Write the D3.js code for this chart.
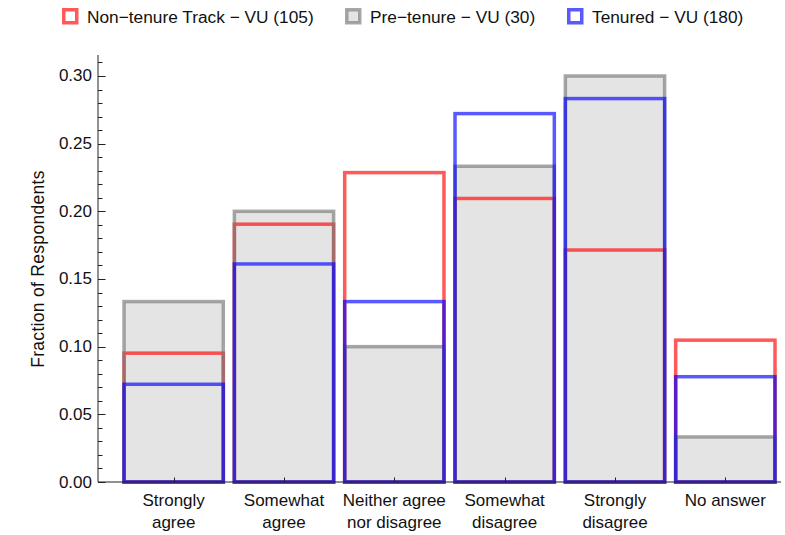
<!DOCTYPE html>
<html>
<head>
<meta charset="utf-8">
<script src="https://cdn.jsdelivr.net/npm/d3@7"></script>
<style>
  body { margin: 0; background: #fff; }
  svg { display: block; }
  text { font-family: "Liberation Sans", Arial, sans-serif; fill: #111; }
</style>
</head>
<body>
<svg id="chart" width="785" height="535"></svg>
<script>
// ---- data ----
const categories = [
  ["Strongly", "agree"],
  ["Somewhat", "agree"],
  ["Neither agree", "nor disagree"],
  ["Somewhat", "disagree"],
  ["Strongly", "disagree"],
  ["No answer"]
];
const seriesNames = ["Non\u2212tenure Track \u2212 VU (105)", "Pre\u2212tenure \u2212 VU (30)", "Tenured \u2212 VU (180)"];
const nonTenure = [0.0952, 0.1905, 0.2286, 0.2095, 0.1714, 0.1048];
const preTenure = [0.1333, 0.2000, 0.1000, 0.2333, 0.3000, 0.0333];
const tenured   = [0.0722, 0.1611, 0.1333, 0.2722, 0.2833, 0.0778];
const yTicks = [0, 0.05, 0.10, 0.15, 0.20, 0.25, 0.30];
const yMinorTicks = d3.range(0, 0.315, 0.01);

// ---- layout ----
const svg = d3.select("#chart");
const catKeys = categories.map((c, i) => i);
const x = d3.scaleBand().domain(catKeys).range([118.5, 780.5]).paddingInner(0.1).paddingOuter(0.05);
const y = d3.scaleLinear().domain([0, 0.3155]).range([482, 55]);

const strokeW = 3.5;
const series = [
  { name: seriesNames[0], values: nonTenure, stroke: "rgba(255,0,0,0.65)", swatchFill: "#fff" },
  { name: seriesNames[1], values: preTenure, stroke: "rgba(120,120,120,0.65)", swatchFill: "#e4e4e4" },
  { name: seriesNames[2], values: tenured, stroke: "rgba(0,0,255,0.65)", swatchFill: "#fff" }
];

// gray fill first
const gBars = svg.append("g");
gBars.selectAll("rect.fill")
  .data(preTenure)
  .join("rect")
  .attr("x", (d, i) => x(i))
  .attr("width", x.bandwidth())
  .attr("y", d => y(d))
  .attr("height", d => y(0) - y(d))
  .attr("fill", "#e4e4e4");

// strokes in order: non-tenure (red), pre-tenure (gray), tenured (blue)
[series[0], series[1], series[2]].forEach(s => {
  gBars.append("g").selectAll("rect")
    .data(s.values)
    .join("rect")
    .attr("x", (d, i) => x(i))
    .attr("width", x.bandwidth())
    .attr("y", d => y(d))
    .attr("height", d => y(0) - y(d))
    .attr("fill", "none")
    .attr("stroke", s.stroke)
    .attr("stroke-width", strokeW);
});

// ---- axes ----
const axisColor = "#222";
const ax = svg.append("g");
ax.append("line").attr("x1", 98).attr("x2", 98).attr("y1", y.range()[1]).attr("y2", y(0))
  .attr("stroke", axisColor).attr("stroke-width", 1);
ax.append("line").attr("x1", 98).attr("x2", 781).attr("y1", y(0)).attr("y2", y(0))
  .attr("stroke", axisColor).attr("stroke-width", 1);

ax.selectAll("line.minor").data(yMinorTicks).join("line")
  .attr("x1", 98).attr("x2", 102.5)
  .attr("y1", d => Math.round(y(d)) + 0.5).attr("y2", d => Math.round(y(d)) + 0.5)
  .attr("stroke", axisColor).attr("stroke-width", 1);
ax.selectAll("line.major").data(yTicks).join("line")
  .attr("x1", 98).attr("x2", 105.5)
  .attr("y1", d => Math.round(y(d)) + 0.5).attr("y2", d => Math.round(y(d)) + 0.5)
  .attr("stroke", axisColor).attr("stroke-width", 1);
ax.selectAll("text.ylab").data(yTicks).join("text")
  .attr("x", 92).attr("y", d => y(d))
  .attr("text-anchor", "end").attr("dominant-baseline", "central")
  .style("font-size", "17px")
  .text(d => d3.format(".2f")(d));

ax.selectAll("line.xt").data(catKeys).join("line")
  .attr("x1", d => Math.round(x(d) + x.bandwidth() / 2) + 0.5)
  .attr("x2", d => Math.round(x(d) + x.bandwidth() / 2) + 0.5)
  .attr("y1", y(0)).attr("y2", y(0) - 4.5)
  .attr("stroke", axisColor).attr("stroke-width", 1);

const xl = ax.selectAll("text.xlab").data(categories).join("text")
  .attr("text-anchor", "middle")
  .style("font-size", "17px");
xl.each(function(lines, i) {
  const t = d3.select(this);
  lines.forEach((ln, j) => {
    t.append("tspan")
      .attr("x", x(i) + x.bandwidth() / 2)
      .attr("y", 506 + j * 22)
      .text(ln);
  });
});

svg.append("text")
  .attr("transform", "translate(44,269) rotate(-90)")
  .attr("text-anchor", "middle")
  .style("font-size", "17.5px")
  .style("letter-spacing", "0.3px")
  .text("Fraction of Respondents");

// ---- legend ----
const legendX = [62, 345, 567];
const leg = svg.append("g");
series.forEach((s, i) => {
  const g = leg.append("g").attr("transform", `translate(${legendX[i]},0)`);
  g.append("rect").attr("x", 1.75).attr("y", 9.75).attr("width", 13).attr("height", 13)
    .attr("fill", s.swatchFill).attr("stroke", s.stroke).attr("stroke-width", strokeW);
  g.append("text").attr("x", 25).attr("y", 17)
    .attr("dominant-baseline", "central")
    .style("font-size", "17.3px")
    .text(s.name);
});
</script>
</body>
</html>
